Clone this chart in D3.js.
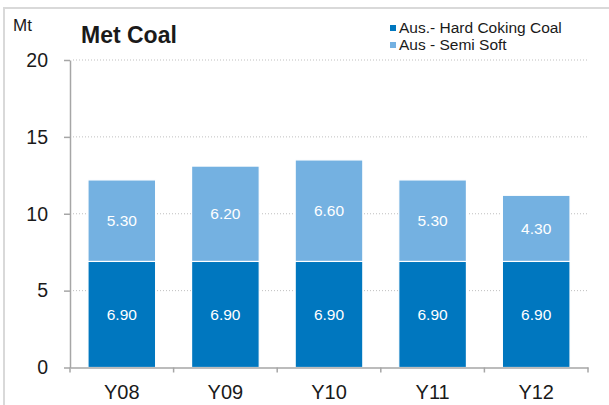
<!DOCTYPE html>
<html lang="en">
<head>
<meta charset="utf-8">
<title>Met Coal</title>
<script src="https://cdn.jsdelivr.net/npm/d3@7"></script>
<style>
  body { margin: 0; background: #fff; }
  svg text { font-family: "Liberation Sans", Arial, sans-serif; }
</style>
</head>
<body>
<script>
// data
var years = ["Y08", "Y09", "Y10", "Y11", "Y12"];
var hardCoking = [6.9, 6.9, 6.9, 6.9, 6.9];
var semiSoft = [5.3, 6.2, 6.6, 5.3, 4.3];
var seriesNames = ["Aus.- Hard Coking Coal", "Aus - Semi Soft"];
var seriesColors = ["#0077BF", "#74B1E1"];
var yTicks = [0, 5, 10, 15, 20];

var w = 609, h = 405;

var svg = d3.select("body").append("svg")
  .attr("width", w)
  .attr("height", h);

// outer frame (only top and left visible)
svg.append("rect")
  .attr("x", 4).attr("y", 8)
  .attr("width", 800).attr("height", 600)
  .attr("fill", "none")
  .attr("stroke", "#D9D9D9")
  .attr("stroke-width", 2);

var x = d3.scaleBand().domain(years).range([70, 588]).padding(0);
var y = d3.scaleLinear().domain([0, 20]).range([367.5, 60]);
var barW = x.bandwidth() * 0.653;

// gridlines
svg.append("g").selectAll("line")
  .data(yTicks.filter(function(d) { return d > 0; }))
  .enter().append("line")
  .attr("x1", 73).attr("x2", 588)
  .attr("y1", function(d) { return y(d); })
  .attr("y2", function(d) { return y(d); })
  .attr("stroke", "#BFBFBF")
  .attr("stroke-width", 1)
  .attr("stroke-dasharray", "1,2");

// stacked data
var rows = years.map(function(yr, i) {
  return { year: yr, hard: hardCoking[i], semi: semiSoft[i] };
});
var stacked = d3.stack().keys(["hard", "semi"])(rows);

var layer = svg.append("g").selectAll("g")
  .data(stacked)
  .enter().append("g")
  .attr("fill", function(d, i) { return seriesColors[i]; });

layer.selectAll("rect")
  .data(function(d) { return d; })
  .enter().append("rect")
  .attr("x", function(d) { return x(d.data.year) + (x.bandwidth() - barW) / 2; })
  .attr("y", function(d) { return y(d[1]); })
  .attr("width", barW)
  .attr("height", function(d) { return y(d[0]) - y(d[1]); })
  .attr("stroke", "#fff")
  .attr("stroke-width", 1.2);

// value labels
layer.selectAll("text")
  .data(function(d) { return d; })
  .enter().append("text")
  .attr("x", function(d) { return x(d.data.year) + x.bandwidth() / 2; })
  .attr("y", function(d) { return y((d[0] + d[1]) / 2); })
  .attr("dy", "0.36em")
  .attr("text-anchor", "middle")
  .attr("fill", "#fff")
  .attr("font-size", "15.5px")
  .text(function(d) { return (d[1] - d[0]).toFixed(2); });

// Y axis
var yAxis = svg.append("g")
  .attr("transform", "translate(70,0)")
  .call(d3.axisLeft(y).tickValues(yTicks).tickSize(6).tickPadding(16).tickSizeOuter(0));
yAxis.select(".domain").attr("stroke", "#A6A6A6").attr("stroke-width", 1.5);
yAxis.selectAll(".tick line").attr("stroke", "#A6A6A6").attr("stroke-width", 1.5);
yAxis.selectAll("text").attr("font-size", "19.5px").attr("fill", "#1a1a1a");

// X axis, ticks between categories
var xAxis = svg.append("g")
  .attr("transform", "translate(0,367.5)")
  .call(d3.axisBottom(x).tickSize(0).tickPadding(17));
xAxis.select(".domain").attr("stroke", "#A6A6A6").attr("stroke-width", 1.5);
xAxis.selectAll("text").attr("font-size", "20px").attr("fill", "#1a1a1a");
xAxis.selectAll(".tick line")
  .attr("x1", -x.bandwidth() / 2).attr("x2", -x.bandwidth() / 2)
  .attr("y2", 5)
  .attr("stroke", "#A6A6A6").attr("stroke-width", 1.5);
xAxis.append("line")
  .attr("x1", 588).attr("x2", 588).attr("y1", 0).attr("y2", 5)
  .attr("stroke", "#A6A6A6").attr("stroke-width", 1.5);

// unit and title
svg.append("text")
  .attr("x", 13).attr("y", 31)
  .attr("font-size", "17px").attr("fill", "#1a1a1a")
  .text("Mt");

svg.append("text")
  .attr("x", 81).attr("y", 43)
  .attr("font-size", "23px").attr("font-weight", "bold").attr("fill", "#1a1a1a")
  .text("Met Coal");

// legend
var legend = svg.append("g").selectAll("g")
  .data(seriesNames)
  .enter().append("g")
  .attr("transform", function(d, i) { return "translate(390," + (25 + i * 17) + ")"; });
legend.append("rect")
  .attr("width", 6).attr("height", 6)
  .attr("fill", function(d, i) { return seriesColors[i]; });
legend.append("text")
  .attr("x", 9).attr("y", 8.3)
  .attr("font-size", "15.5px").attr("fill", "#1a1a1a")
  .text(function(d) { return d; });
</script>
</body>
</html>
